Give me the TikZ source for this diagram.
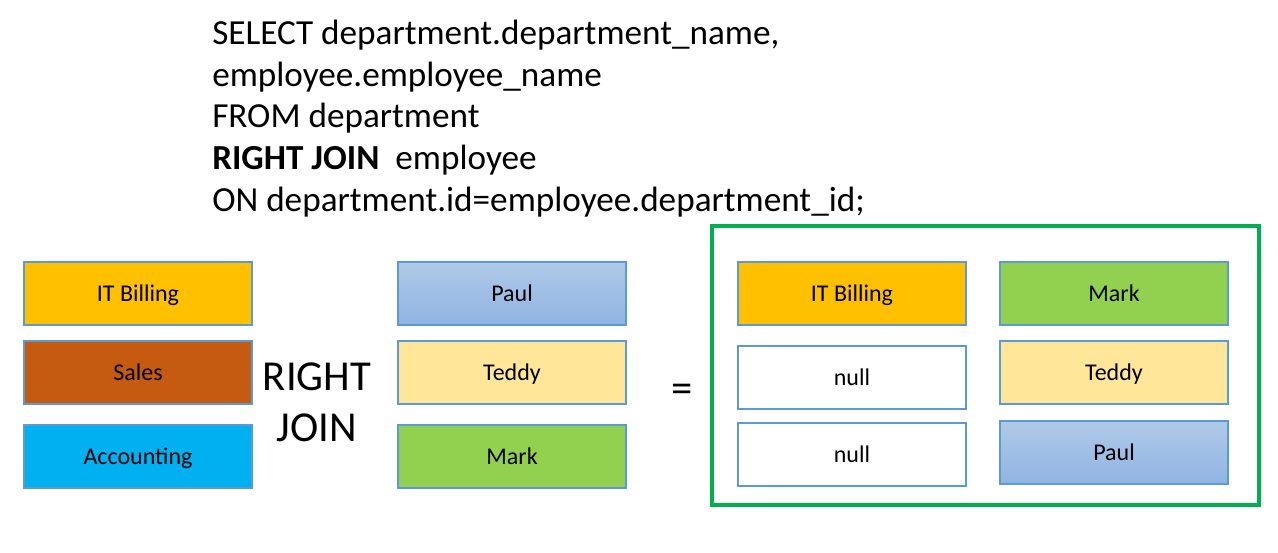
\documentclass[tikz,border=0pt]{standalone}
\usepackage{fontspec}
\setmainfont{Carlito}
\usetikzlibrary{positioning}
\definecolor{boxline}{HTML}{5B9BD5}
\definecolor{itbill}{HTML}{FFC000}
\definecolor{sales}{HTML}{C55A11}
\definecolor{acct}{HTML}{00B0F0}
\definecolor{teddy}{HTML}{FFE699}
\definecolor{mark}{HTML}{92D050}
\definecolor{paultop}{HTML}{B0C9E8}
\definecolor{paulbot}{HTML}{8FB4E2}
\definecolor{frame}{HTML}{00B050}

\begin{document}
\begin{tikzpicture}[x=0.75pt,y=-0.75pt,font=\fontsize{18}{22}\selectfont]
  \tikzstyle{cell}=[rectangle,draw=boxline,line width=0.8pt,minimum width=171pt,
                    minimum height=47.25pt,inner sep=0pt,text height=11.6pt,text depth=0pt]
  \tikzstyle{paul}=[cell,top color=paultop,bottom color=paulbot]
  \tikzstyle{big}=[font=\fontsize{32}{38.3}\selectfont,align=center,inner sep=0pt]

  \useasboundingbox (0,0) rectangle (1278,553);

  % query
  \node[anchor=north west,align=left,inner sep=0pt,
        font=\fontsize{26.4}{31.2}\selectfont] (query) at (212,20)
       {SELECT department.department\_name,\\
        employee.employee\_name\\
        FROM department\\
        \textbf{RIGHT JOIN}\ \ employee\\
        ON department.id=employee.department\_id;};

  % department table
  \node[cell,fill=itbill] (d1) at (138,293.5) {IT Billing};
  \node[cell,fill=sales]  (d2) at (138,372.5) {Sales};
  \node[cell,fill=acct]   (d3) at (138,456.5) {Accounting};

  \node[big] (join) at (317,402) {RIGHT\\JOIN};

  % employee table
  \node[paul]             (e1) at (512,293.5) {Paul};
  \node[cell,fill=teddy]  (e2) at (512,372.5) {Teddy};
  \node[cell,fill=mark]   (e3) at (512,456.5) {Mark};

  \node[font=\fontsize{32}{38}\selectfont,inner sep=0pt] (eq) at (682,393) {=};

  % result
  \node[rectangle,draw=frame,line width=3pt,minimum width=410.25pt,
        minimum height=209.25pt] (res) at (985.5,365.5) {};
  \node[cell,fill=itbill] (r1) at (852,293.5) {IT Billing};
  \node[cell,fill=white]  (r2) at (852,377.5) {null};
  \node[cell,fill=white]  (r3) at (852,454.5) {null};
  \node[cell,fill=mark]   (m1) at (1114,293.5) {Mark};
  \node[cell,fill=teddy]  (m2) at (1114,372.5) {Teddy};
  \node[paul]             (m3) at (1114,452.5) {Paul};

\end{tikzpicture}
\end{document}
